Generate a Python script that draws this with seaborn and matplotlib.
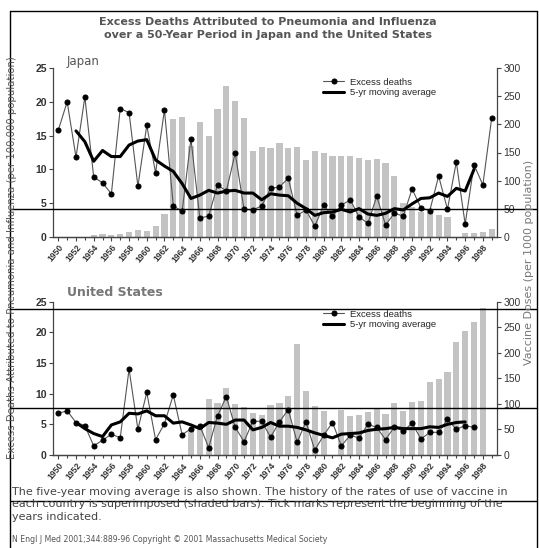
import numpy as np
import pandas as pd
import matplotlib
matplotlib.use("Agg")
import matplotlib.pyplot as plt
from matplotlib.lines import Line2D
from matplotlib.ticker import MultipleLocator
import seaborn as sns

sns.set_style("ticks")
plt.rcParams['font.family'] = ['DejaVu Sans']

# === Data ===
years = list(range(1950, 2000))

# Japan
jp_death_years = list(range(1950, 2000))
jp_deaths = [15.8, 20.0, 11.8, 20.7, 8.9, 8.0, 6.4, 19.0, 18.4, 7.5,
             16.5, 9.5, 18.8, 4.6, 3.8, 14.5, 2.8, 3.1, 7.7, 6.8,
             12.4, 4.1, 4.0, 4.6, 7.2, 7.4, 8.7, 3.2, 4.0, 1.6,
             4.7, 3.1, 4.7, 5.5, 3.0, 2.0, 6.0, 1.8, 3.5, 3.1,
             7.1, 4.3, 3.9, 9.0, 4.1, 11.1, 1.9, 10.7, 7.7, 17.6]
jp_ma_years = list(range(1952, 1998))
jp_ma = [15.7, 14.1, 11.2, 12.8, 11.9, 11.9, 13.6, 14.2,
         14.4, 11.4, 10.5, 9.7, 7.9, 5.7, 6.2, 6.9, 6.5, 6.8,
         6.9, 6.5, 6.5, 5.5, 6.4, 6.2, 6.1, 5.0, 4.2, 3.2,
         3.6, 3.7, 4.1, 3.7, 4.2, 3.4, 3.2, 3.5, 4.2, 4.0,
         4.9, 5.7, 5.8, 6.5, 6.0, 7.2, 6.8, 10.0]
jp_vaccine = [0, 0, 0, 0, 3, 5, 4, 5, 8, 12,
              11, 20, 40, 210, 213, 162, 204, 180, 228, 268,
              242, 211, 153, 159, 158, 167, 158, 160, 137, 152,
              149, 143, 144, 144, 140, 137, 139, 131, 109, 60,
              53, 44, 44, 39, 36, 0, 7, 7, 9, 14]

# United States
us_death_years = list(range(1950, 1998))
us_deaths = [6.8, 7.2, 5.3, 4.8, 1.5, 2.4, 3.4, 2.8, 14.0, 4.2,
             10.2, 2.5, 5.1, 9.8, 3.3, 4.3, 4.8, 1.2, 6.4, 9.5,
             4.5, 2.2, 5.5, 5.5, 2.9, 5.4, 7.4, 2.1, 5.4, 0.8,
             3.2, 5.3, 1.5, 3.2, 2.8, 5.0, 4.5, 2.5, 4.6, 3.9,
             5.2, 2.6, 3.7, 3.7, 5.8, 4.2, 4.8, 4.5]
us_ma_years = list(range(1952, 1997))
us_ma = [5.3, 4.3, 3.5, 3.0, 4.9, 5.4, 6.8, 6.7,
         7.2, 6.4, 6.4, 5.2, 5.4, 4.9, 4.3, 5.3, 5.2, 5.0,
         5.7, 5.7, 4.1, 4.5, 5.3, 4.7, 4.7, 4.5, 4.1, 3.6,
         3.2, 2.8, 3.4, 3.5, 3.6, 4.0, 4.2, 4.3, 4.5, 4.3,
         4.3, 4.3, 4.6, 4.5, 5.0, 5.3, 5.4]
us_vaccine = [0, 0, 0, 0, 0, 0, 0, 0, 0, 0,
              0, 0, 0, 0, 0, 50, 50, 110, 102, 132,
              100, 93, 82, 79, 97, 102, 115, 218, 126, 95,
              86, 0, 89, 76, 79, 84, 92, 80, 102, 87,
              103, 105, 142, 148, 162, 221, 243, 260, 288, 0]

W, H = 539, 548
BAR = '#c3c3c3'
TXT = '#333333'


def fx(px):
    return px / W


def fy(py):
    return 1 - py / H


fig = plt.figure(figsize=(W / 100, H / 100), dpi=100)


def draw_panel(rect, d_years, deaths, m_years, ma, vacc, leg_y):
    ax = fig.add_axes(rect)
    ax2 = ax.twinx()
    sns.barplot(x=years, y=vacc, ax=ax2, native_scale=True, color=BAR,
                saturation=1, width=0.7, errorbar=None, linewidth=0)
    sns.lineplot(x=d_years, y=deaths, ax=ax, color='#555555', lw=0.8,
                 marker='o', markersize=3.6, markerfacecolor='black',
                 markeredgecolor='black', label='Excess deaths')
    sns.lineplot(x=m_years, y=ma, ax=ax, color='black', lw=2.2,
                 label='5-yr moving average')
    ax.set_zorder(ax2.get_zorder() + 1)
    ax.patch.set_visible(False)

    ax.set_xlim(1949.4, 1999.6)
    ax.set_ylim(0, 25)
    ax2.set_ylim(0, 300)
    ax.set_xlabel('')
    ax.set_ylabel('')
    ax2.set_ylabel('')
    ax.xaxis.set_minor_locator(MultipleLocator(1))
    ax.set_xticks(range(1950, 2000, 2))
    ax.set_xticklabels([str(y) for y in range(1950, 2000, 2)], rotation=50,
                       ha='right', rotation_mode='anchor',
                       fontsize=6.2, fontweight='bold', color=TXT,
                       family='Liberation Sans')
    ax.set_yticks(range(0, 26, 5))
    ax.set_yticklabels([str(v) for v in range(0, 26, 5)], fontsize=7.5,
                       fontweight='bold', color=TXT, family='Liberation Sans')
    ax2.set_yticks(range(0, 301, 50))
    ax2.set_yticklabels([str(v) for v in range(0, 301, 50)], fontsize=7.5,
                        color=TXT, family='Liberation Sans')
    ax.tick_params(axis='both', which='both', direction='out', length=3,
                   width=0.8, color='#444444', pad=1.5)
    ax.tick_params(axis='x', which='minor', length=2)
    ax2.tick_params(axis='y', direction='out', length=3, width=0.8,
                    color='#444444', pad=1.5)
    for a in (ax, ax2):
        a.spines['top'].set_visible(False)
        for s in ('left', 'right', 'bottom'):
            a.spines[s].set_color('#444444')
            a.spines[s].set_linewidth(0.9)
    ax2.spines['left'].set_visible(False)
    ax.spines['right'].set_visible(False)

    ax.legend(loc='upper left', bbox_to_anchor=(fx(318), fy(leg_y)),
              bbox_transform=fig.transFigure, frameon=False,
              prop={'family': 'Liberation Sans', 'size': 6.8},
              handlelength=2.3, handletextpad=0.6, labelspacing=0.15,
              borderpad=0)
    return ax, ax2


left, right = 53, 497
draw_panel([fx(left), fy(237), fx(right - left), (237 - 68) / H],
           jp_death_years, jp_deaths, jp_ma_years, jp_ma, jp_vaccine, 73)
draw_panel([fx(left), fy(455), fx(right - left), (455 - 301.7) / H],
           us_death_years, us_deaths, us_ma_years, us_ma, us_vaccine, 305)

# === Texts ===
fig.text(fx(268), fy(17), 'Excess Deaths Attributed to Pneumonia and Influenza\n'
         'over a 50-Year Period in Japan and the United States',
         ha='center', va='top', fontsize=8.0, fontweight='bold', color='#555555',
         linespacing=1.4)
fig.text(fx(67), fy(62), 'Japan', ha='left', va='center', fontsize=8.5,
         color='#555555')
fig.text(fx(67), fy(293), 'United States', ha='left', va='center',
         fontsize=9, fontweight='bold', color='#777777')
fig.text(fx(12), fy(258), 'Excess Deaths Attributed to Pneumonia and Influenza '
         '(per 100,000 population)', rotation=90, ha='center', va='center',
         fontsize=7.3, color='#555555')
fig.text(fx(529), fy(262), 'Vaccine Doses (per 1000 population)', rotation=90,
         ha='center', va='center', fontsize=8, color='#777777')
fig.text(fx(12), fy(487), 'The five-year moving average is also shown. The history '
         'of the rates of use of vaccine in\neach country is superimposed (shaded '
         'bars). Tick marks represent the beginning of the\nyears indicated.',
         ha='left', va='top', fontsize=8.0, color='#444444', linespacing=1.3)
fig.text(fx(12), fy(540), 'N Engl J Med 2001;344:889-96 Copyright \u00a9 2001 '
         'Massachusetts Medical Society', ha='left', va='center', fontsize=5.6,
         color='#555555')

# === Frame and scan lines seen on the original ===
for (x0, y0, x1, y1) in [(10, 11, 537, 11), (10, 11, 10, 548), (537, 11, 537, 548),
                         (10, 209, 537, 209), (10, 309, 537, 309),
                         (10, 408, 537, 408), (10, 501, 537, 501)]:
    fig.add_artist(Line2D([fx(x0), fx(x1)], [fy(y0), fy(y1)],
                          transform=fig.transFigure, color='black', lw=1.0))

fig.savefig('out.png', dpi=100)
